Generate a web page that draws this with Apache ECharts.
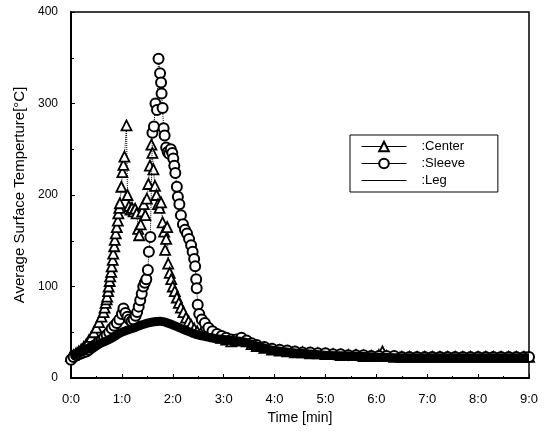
<!DOCTYPE html>
<html>
<head>
<meta charset="utf-8">
<script src="https://cdn.jsdelivr.net/npm/echarts@6/dist/echarts.min.js"></script>
<style>
  html, body { margin: 0; padding: 0; background: #fff; }
  #chart { width: 546px; height: 431px; }
</style>
</head>
<body>
<div id="chart"></div>
<script>
// 时间 (min) 与温度 (°C)
const centerTime = [0, 0.05, 0.1, 0.15, 0.2, 0.25, 0.3, 0.35, 0.4, 0.45, 0.5, 0.55, 0.6, 0.64, 0.66, 0.68, 0.7, 0.71, 0.73, 0.74, 0.76, 0.77, 0.79, 0.8, 0.82, 0.83, 0.85, 0.86, 0.88, 0.9, 0.92, 0.93, 0.95, 0.96, 0.99, 1.01, 1.03, 1.05, 1.09, 1.11, 1.14, 1.17, 1.2, 1.23, 1.26, 1.29, 1.32, 1.34, 1.37, 1.4, 1.43, 1.46, 1.49, 1.52, 1.55, 1.58, 1.6, 1.62, 1.65, 1.68, 1.71, 1.74, 1.77, 1.8, 1.83, 1.85, 1.87, 1.89, 1.91, 1.94, 1.97, 2.0, 2.04, 2.08, 2.12, 2.16, 2.21, 2.26, 2.31, 2.36, 2.42, 2.48, 2.55, 2.65, 2.75, 2.85, 2.95, 3.05, 3.15, 3.25, 3.35, 3.45, 3.55, 3.65, 3.8, 3.95, 4.1, 4.25, 4.4, 4.55, 4.7, 4.85, 5.0, 5.15, 5.3, 5.45, 5.6, 5.75, 5.9, 6.05, 6.12, 6.2, 6.35, 6.5, 6.65, 6.8, 6.95, 7.1, 7.25, 7.4, 7.55, 7.7, 7.85, 8.0, 8.15, 8.3, 8.45, 8.6, 8.75, 8.9, 9.0];
const centerTemp = [24, 25, 27, 29, 31, 34, 37, 41, 45, 50, 55, 61, 67, 72, 77, 82, 86, 89, 95, 100, 106, 111, 116, 122, 129, 136, 144, 151, 158, 165, 172, 180, 186, 191, 209, 225, 233, 242, 276, 200, 188, 184, 186, 182, 185, 180, 163, 156, 168, 182, 190, 178, 196, 212, 232, 255, 246, 228, 210, 200, 190, 186, 192, 170, 160, 140, 152, 165, 125, 115, 108, 100, 95, 88, 82, 77, 72, 66, 62, 58, 54, 51, 49, 48, 47, 46, 44, 42, 40, 41, 43, 40, 37, 35, 33, 31, 30, 29, 28, 28, 27, 27, 26, 26, 25, 25, 25, 24, 24, 25, 29, 24, 23, 23, 23, 23, 23, 23, 23, 23, 23, 23, 23, 23, 23, 23, 23, 23, 23, 23, 23];

const sleeveTime = [0, 0.05, 0.1, 0.15, 0.2, 0.25, 0.3, 0.35, 0.4, 0.45, 0.5, 0.55, 0.6, 0.65, 0.7, 0.75, 0.8, 0.85, 0.9, 0.95, 1.0, 1.03, 1.07, 1.11, 1.15, 1.19, 1.23, 1.27, 1.3, 1.33, 1.36, 1.39, 1.42, 1.45, 1.48, 1.51, 1.53, 1.56, 1.6, 1.63, 1.66, 1.69, 1.72, 1.75, 1.77, 1.78, 1.8, 1.82, 1.84, 1.87, 1.9, 1.93, 1.96, 1.99, 2.01, 2.03, 2.05, 2.08, 2.1, 2.13, 2.16, 2.2, 2.24, 2.28, 2.32, 2.36, 2.39, 2.42, 2.44, 2.46, 2.47, 2.49, 2.52, 2.57, 2.63, 2.7, 2.78, 2.87, 2.96, 3.05, 3.15, 3.25, 3.35, 3.45, 3.55, 3.65, 3.8, 3.95, 4.1, 4.25, 4.4, 4.55, 4.7, 4.85, 5.0, 5.15, 5.3, 5.45, 5.6, 5.75, 5.9, 6.05, 6.2, 6.35, 6.5, 6.65, 6.8, 6.95, 7.1, 7.25, 7.4, 7.55, 7.7, 7.85, 8.0, 8.15, 8.3, 8.45, 8.6, 8.75, 8.9, 9.0];
const sleeveTemp = [20, 23, 25, 26, 27, 28, 29, 31, 33, 35, 37, 39, 41, 44, 47, 50, 54, 57, 60, 64, 70, 76, 71, 67, 64, 62, 64, 68, 72, 78, 85, 92, 100, 104, 108, 118, 138, 154, 268, 275, 300, 293, 349, 333, 323, 311, 295, 273, 265, 252, 247, 245, 250, 246, 240, 232, 224, 209, 198, 190, 178, 168, 162, 158, 152, 145, 138, 130, 122, 108, 98, 80, 70, 64, 60, 55, 51, 48, 46, 44, 42, 42, 44, 41, 38, 36, 34, 32, 31, 30, 29, 28, 28, 27, 27, 26, 26, 25, 25, 25, 24, 24, 24, 24, 23, 23, 23, 23, 23, 23, 23, 23, 23, 23, 23, 23, 23, 23, 23, 23, 23, 23];

const legTime = [0, 0.25, 0.5, 0.75, 1.0, 1.25, 1.5, 1.75, 2.0, 2.25, 2.5, 2.75, 3.0, 3.35, 3.6, 4.0, 4.5, 5.0, 5.5, 6.0, 6.5, 7.0, 7.5, 8.0, 8.5, 9.0];
const legTemp = [24, 30, 36, 42, 50, 55, 60, 62, 58, 52, 47, 44, 42, 40, 36, 30, 27, 25, 24, 23, 22, 22, 22, 22, 22, 22];

const xTicks = [0, 1, 2, 3, 4, 5, 6, 7, 8, 9];

const font = 'Liberation Sans, Arial, sans-serif';

function pairs(t, v) {
  return t.map((x, i) => [x, v[i]]);
}

const mychart = echarts.init(document.getElementById('chart'));

const option = {
  animation: false,
  backgroundColor: '#fff',
  textStyle: { fontFamily: font, color: '#000' },
  grid: {
    left: 71,
    right: 17,
    top: 12,
    bottom: 53,
    show: true,
    borderColor: '#000',
    borderWidth: 1.5,
  },
  legend: {
    orient: 'vertical',
    left: 350,
    top: 135,
    padding: [5, 33, 5, 11],
    itemWidth: 45,
    itemHeight: 12,
    itemGap: 4,
    borderColor: '#000',
    borderWidth: 1,
    backgroundColor: '#fff',
    formatter: (n) => ':' + n,
    textStyle: { fontSize: 13, fontFamily: font, color: '#000', padding: [0, 0, 0, 10] },
    data: [
      { name: 'Center', lineStyle: { type: 'solid', width: 1 } },
      { name: 'Sleeve', lineStyle: { type: 'solid', width: 1 } },
      { name: 'Leg', lineStyle: { type: 'solid', width: 1 }, itemStyle: { opacity: 0 } },
    ],
  },
  xAxis: {
    type: 'value',
    min: 0,
    max: 9,
    interval: 1,
    name: 'Time [min]',
    nameLocation: 'middle',
    nameGap: 31,
    nameTextStyle: { fontSize: 14, color: '#000' },
    axisLine: { lineStyle: { color: '#000', width: 2 } },
    axisTick: { inside: true, length: 4, lineStyle: { color: '#000' } },
    minorTick: { show: true, splitNumber: 2, length: 2, lineStyle: { color: '#000' } },
    splitLine: { show: false },
    axisLabel: {
      fontSize: 13,
      color: '#000',
      margin: 15,
      formatter: (v) => (xTicks.includes(v) ? v + ':0' : ''),
    },
  },
  yAxis: {
    type: 'value',
    min: 0,
    max: 400,
    interval: 100,
    name: 'Average Surface Temperture[°C]',
    nameLocation: 'middle',
    nameGap: 40,
    nameTextStyle: { fontSize: 15, color: '#000' },
    axisLine: { show: true, lineStyle: { color: '#000', width: 2 } },
    axisTick: { inside: true, length: 4, lineStyle: { color: '#000' } },
    minorTick: { show: true, splitNumber: 2, length: 3, lineStyle: { color: '#000' } },
    splitLine: { show: false },
    axisLabel: { fontSize: 12, color: '#000', margin: 13 },
  },
  series: [
    {
      name: 'Center',
      type: 'line',
      data: pairs(centerTime, centerTemp),
      symbol: 'triangle',
      symbolSize: 10,
      lineStyle: { color: '#000', width: 1, type: 'dotted' },
      itemStyle: { color: '#fff', borderColor: '#000', borderWidth: 1.8 },
      z: 2,
    },
    {
      name: 'Sleeve',
      type: 'line',
      data: pairs(sleeveTime, sleeveTemp),
      symbol: 'circle',
      symbolSize: 10,
      lineStyle: { color: '#000', width: 1, type: 'dotted' },
      itemStyle: { color: '#fff', borderColor: '#000', borderWidth: 2 },
      z: 3,
    },
    {
      // 腿部曲线画在最上面，形成底部的粗黑带
      name: 'Leg',
      type: 'line',
      data: pairs(legTime, legTemp),
      symbol: 'none',
      smooth: 0.3,
      lineStyle: { color: '#000', width: 9 },
      itemStyle: { color: '#000' },
      z: 4,
    },
  ],
};

mychart.setOption(option);
</script>
</body>
</html>
